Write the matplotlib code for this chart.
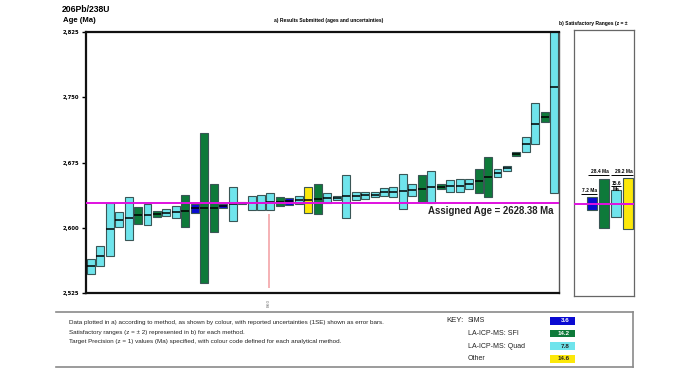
import matplotlib
matplotlib.use('Agg')
import matplotlib.pyplot as plt
from matplotlib.patches import Rectangle
from matplotlib.lines import Line2D
from matplotlib.ticker import FuncFormatter

# lab results (206Pb/238U age, Ma) and reported 1SE uncertainty
ages = [2556.0, 2567.5, 2598.2, 2609.3, 2611.0, 2614.1, 2615.2, 2616.0, 2617.2, 2618.3,
        2619.3, 2622.3, 2622.7, 2622.7, 2625.0, 2627.1, 2628.4, 2628.1, 2628.8, 2629.9,
        2629.9, 2630.2, 2632.1, 2631.5, 2632.7, 2634.2, 2634.4, 2636.1, 2636.3, 2637.5,
        2638.2, 2641.1, 2641.5, 2641.7, 2643.4, 2645.1, 2646.6, 2647.0, 2647.8, 2648.3,
        2650.3, 2654.0, 2658.7, 2662.7, 2668.3, 2685.1, 2696.0, 2719.6, 2727.6, 2761.8]
uncert = [8.6, 11.7, 30.5, 8.4, 24.7, 9.4, 12.1, 3.6, 4.0, 6.7,
          18.4, 5.0, 85.8, 27.2, 2.3, 19.4, 1.4, 8.0, 8.8, 9.6,
          5.0, 3.6, 4.8, 15.0, 17.2, 5.4, 2.5, 24.5, 4.4, 4.0,
          3.3, 4.2, 5.7, 19.7, 6.9, 15.2, 18.6, 2.9, 7.1, 7.7,
          5.7, 13.6, 23.0, 4.8, 2.7, 2.3, 8.6, 23.4, 5.7, 121.5]
methods = ['Q', 'Q', 'Q', 'Q', 'Q', 'F', 'Q', 'F', 'Q', 'Q',
           'F', 'S', 'F', 'F', 'S', 'Q', 'S', 'Q', 'Q', 'Q',
           'F', 'S', 'Q', 'O', 'F', 'Q', 'Q', 'Q', 'Q', 'Q',
           'Q', 'Q', 'Q', 'Q', 'Q', 'F', 'Q', 'F', 'Q', 'Q',
           'Q', 'F', 'F', 'Q', 'Q', 'F', 'Q', 'Q', 'F', 'Q']

assigned_age = 2628.38

# lab B60 (flagged, drawn as a line)
b60_pos = 19.85
b60_low = 2530.7
b60_high = 2615.8

# target precision (z = 1) per method
key_codes = ['S', 'F', 'Q', 'O']
key_names = ['SIMS', 'LA-ICP-MS: SFI', 'LA-ICP-MS: Quad', 'Other']
target_prec = [3.6, 14.2, 7.8, 14.6]

colours = {'S': '#0a0ad2', 'F': '#0e7a3a', 'Q': '#6fe4ec', 'O': '#fce80a'}
edge = '#3a5656'

W, H = 689, 371
fig = plt.figure(figsize=(W / 100, H / 100), dpi=100)


def fx(x):
    return x / W


def fy(y):
    return 1 - y / H


# ---- panel a
ax = fig.add_axes([fx(86), fy(293), fx(559) - fx(86), fy(32) - fy(293)])
xs = list(range(1, len(ages) + 1))
cols = [colours[m] for m in methods]
bw = 0.84
ax.bar(xs, [2 * u for u in uncert], bottom=[a - u for a, u in zip(ages, uncert)],
       width=bw, color=cols, edgecolor=edge, linewidth=0.8, zorder=2)
ax.hlines(ages, [x - bw / 2 for x in xs], [x + bw / 2 for x in xs],
          color='black', linewidth=1.1, zorder=3)
ax.vlines(b60_pos, b60_low, b60_high, color='#f4a4a8', linewidth=1.2, zorder=1)
ax.axhline(assigned_age, color='#e010e0', linewidth=1.4, zorder=4)
ax.text(0.989, assigned_age - 3.5, 'Assigned Age = %.2f Ma' % assigned_age,
        transform=ax.get_yaxis_transform(), ha='right', va='top',
        fontsize=6.9, fontweight='bold', family='Liberation Sans', color='#222222')

ax.set_xlim(0.5, len(ages) + 0.5)
ax.set_ylim(2525, 2825)
ax.set_yticks([2525, 2600, 2675, 2750, 2825])
ax.yaxis.set_major_formatter(FuncFormatter(lambda v, p: '{:,.0f}'.format(v)))
ax.tick_params(axis='y', labelsize=3.8, length=3, width=1, pad=2)
for lab in ax.get_yticklabels():
    lab.set_fontweight('bold')
ax.set_xticks([b60_pos])
ax.set_xticklabels(['B60'], rotation=90, fontsize=3, color='#777777')
ax.tick_params(axis='x', length=0, pad=4)
for s in ['left', 'bottom', 'top']:
    ax.spines[s].set_linewidth(1.6)
    ax.spines[s].set_color('#111111')
ax.spines['right'].set_linewidth(1.0)
ax.spines['right'].set_color('#555555')
ax.text(0.514, 1.035, 'a) Results Submitted (ages and uncertainties)', transform=ax.transAxes,
        ha='center', va='bottom', fontsize=3.6, fontweight='bold', family='Liberation Sans')

# ---- panel b
bx = fig.add_axes([fx(574), fy(296), fx(634) - fx(574), fy(30) - fy(296)])
bpos = [1.5, 2.5, 3.5, 4.5]
bwb = 0.85
half = [2 * t for t in target_prec]
bx.bar(bpos, [2 * h for h in half], bottom=[assigned_age - h for h in half], width=bwb,
       color=[colours[c] for c in key_codes], edgecolor=edge, linewidth=0.8, zorder=2)
bx.axhline(assigned_age, color='#e010e0', linewidth=1.4, zorder=4)
line_len = [1.36, 1.8, 0.85, 1.86]
for p, h, L, t in zip(bpos, half, line_len, target_prec):
    right = p + bwb / 2
    top = assigned_age + h
    bx.hlines(top + 4, right - L, right, color='black', linewidth=0.7, zorder=3)
    rng = '%.1f' % (2 * t)
    if L < 1:
        bx.text(right, top + 5, rng, ha='right', va='bottom', fontsize=3.5, fontweight='bold',
                family='Liberation Sans')
        bx.text(right - 0.1, top + 3, 'Ma', ha='right', va='top', fontsize=3.5,
                fontweight='bold', family='Liberation Sans')
    else:
        bx.text(right, top + 5, rng + ' Ma', ha='right', va='bottom', fontsize=3.5,
                fontweight='bold', family='Liberation Sans')
bx.set_xlim(0, 5)
bx.set_ylim(2522, 2828)
bx.set_xticks([])
bx.set_yticks([])
for s in bx.spines.values():
    s.set_color('#666666')
    s.set_linewidth(0.9)
fig.text(fx(559), fy(23), 'b) Satisfactory Ranges (z = \u00b1', ha='left', va='center',
         fontsize=3.6, fontweight='bold', family='Liberation Sans')

# ---- axis headings
fig.text(fx(62), fy(9), '206Pb/238U', ha='left', va='center', fontsize=6.2,
         fontweight='bold', family='Liberation Sans')
fig.text(fx(63), fy(20.5), 'Age (Ma)', ha='left', va='center', fontsize=5.6,
         fontweight='bold', family='Liberation Sans')

# ---- notes and key box
box_col = '#8a8a8a'
fig.add_artist(Line2D([fx(56), fx(633)], [fy(311.5), fy(311.5)], color=box_col, lw=1.2))
fig.add_artist(Line2D([fx(56), fx(633)], [fy(366.5), fy(366.5)], color=box_col, lw=1.2))
fig.add_artist(Line2D([fx(633), fx(633)], [fy(311.5), fy(366.5)], color=box_col, lw=1.2))

notes = ['Data plotted in a) according to method, as shown by colour, with reported uncertainties (1SE) shown as error bars.',
         'Satisfactory ranges (z = \u00b1 2) represented in b) for each method.',
         'Target Precision (z = 1) values (Ma) specified, with colour code defined for each analytical method.']
for i, n in enumerate(notes):
    fig.text(fx(69), fy(322.5 + i * 9.7), n, ha='left', va='center', fontsize=4.5,
             family='Liberation Sans', color='#222222')

fig.text(fx(446), fy(320.7), 'KEY:', ha='left', va='center', fontsize=5.6,
         family='Liberation Sans', color='#222222')
for i, (code, name, t) in enumerate(zip(key_codes, key_names, target_prec)):
    yc = 321 + i * 12.6
    fig.text(fx(467.5), fy(yc), name, ha='left', va='center', fontsize=5,
             family='Liberation Sans', color='#222222')
    fig.add_artist(Rectangle((fx(549.5), fy(yc + 3.8)), fx(574.5) - fx(549.5), 7.6 / H,
                             facecolor=colours[code], edgecolor='none'))
    tc = 'white' if code in ('S', 'F') else '#222222'
    fig.text(fx(570), fy(yc), '%.1f' % t, ha='right', va='center', fontsize=4.5,
             fontweight='bold', family='Liberation Sans', color=tc)

fig.savefig('out.png', dpi=100)
